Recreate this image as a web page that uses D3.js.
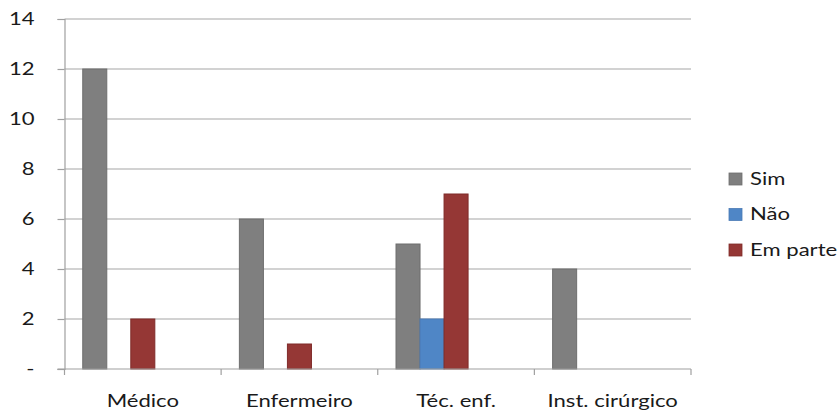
<!DOCTYPE html>
<html>
<head>
<meta charset="utf-8">
<script src="https://cdn.jsdelivr.net/npm/d3@7"></script>
<style>
  html, body { margin: 0; padding: 0; background: #fff; }
  svg { display: block; font-family: Lato, "Open Sans", sans-serif; }
</style>
</head>
<body>
<svg id="chart" width="839" height="412"></svg>
<script>
// Respondents per profession, by answer
const categories = ["Médico", "Enfermeiro", "Téc. enf.", "Inst. cirúrgico"];
const seriesNames = ["Sim", "Não", "Em parte"];
const sim = [12, 6, 5, 4];
const nao = [0, 0, 2, 0];
const emParte = [2, 1, 7, 0];
const yTicks = [0, 2, 4, 6, 8, 10, 12, 14];
const yTickLabels = ["-", "2", "4", "6", "8", "10", "12", "14"];
const colors = ["#7f7f7f", "#4f86c6", "#953735"];
const strokes = ["#6e6e6e", "#4a7ab5", "#7f2b29"];

const seriesValues = [sim, nao, emParte];

// labels are drawn with a wide letter shape
const stretch = 1.3;
function widen(sel) {
  sel.each(function () {
    const t = d3.select(this);
    const x = +t.attr("x") || 0;
    t.attr("x", x / stretch).attr("transform", `scale(${stretch},1)`);
  });
}

const svg = d3.select("#chart");
const plotLeft = 64.5, plotRight = 691, plotTop = 19, plotBottom = 369;

const x0 = d3.scaleBand().domain(categories).range([plotLeft, plotRight]).padding(0);
// five slots per category, the three series fill the first three
const slots = seriesNames.concat(["_a", "_b"]);
const x1 = d3.scaleBand().domain(slots)
  .range([0, x0.bandwidth()]).paddingOuter(0.76).paddingInner(0);
const y = d3.scaleLinear().domain([0, 14]).range([plotBottom, plotTop]);

// gridlines
svg.append("g")
  .selectAll("line")
  .data(yTicks.filter(t => t > 0))
  .join("line")
  .attr("x1", plotLeft).attr("x2", plotRight)
  .attr("y1", d => y(d)).attr("y2", d => y(d))
  .attr("stroke", "#a6a6a6").attr("stroke-width", 1.2);

// y axis
const yAxis = d3.axisLeft(y).tickValues(yTicks)
  .tickFormat((d, i) => yTickLabels[i]).tickSize(7).tickPadding(23);
const gy = svg.append("g").attr("transform", `translate(${plotLeft},0)`).call(yAxis);
gy.select(".domain").attr("stroke", "#a0a0a0").attr("stroke-width", 1.2);
gy.selectAll(".tick line").attr("stroke", "#a0a0a0").attr("stroke-width", 1.2);
gy.selectAll(".tick text").attr("font-size", 17).attr("fill", "#1a1a1a")
  .attr("font-family", "Lato, 'Open Sans', sans-serif").call(widen);

// bars
seriesNames.forEach((name, si) => {
  svg.append("g")
    .selectAll("rect")
    .data(categories.map((c, i) => ({ c, v: seriesValues[si][i] })).filter(d => d.v > 0))
    .join("rect")
    .attr("x", d => x0(d.c) + x1(name))
    .attr("width", x1.bandwidth())
    .attr("y", d => y(d.v))
    .attr("height", d => y(0) - y(d.v))
    .attr("fill", colors[si])
    .attr("stroke", strokes[si]).attr("stroke-width", 1);
});

// x axis
const xAxis = d3.axisBottom(x0).tickSize(0).tickPadding(26);
const gx = svg.append("g").attr("transform", `translate(0,${plotBottom})`).call(xAxis);
gx.select(".domain").remove();
gx.append("line").attr("x1", plotLeft - 7).attr("x2", plotRight)
  .attr("stroke", "#a0a0a0").attr("stroke-width", 1.2);
gx.selectAll(".cat-tick")
  .data(categories.map(c => x0(c)).concat([plotRight]))
  .join("line")
  .attr("class", "cat-tick")
  .attr("x1", d => d).attr("x2", d => d).attr("y1", 0).attr("y2", 6)
  .attr("stroke", "#a0a0a0").attr("stroke-width", 1.2);
gx.selectAll(".tick text").attr("font-size", 17).attr("fill", "#1a1a1a")
  .attr("font-family", "Lato, 'Open Sans', sans-serif").call(widen);

// legend
const legend = svg.append("g").attr("transform", "translate(729,0)");
const ly = d3.scalePoint().domain(seriesNames).range([179, 250]);
seriesNames.forEach((name, si) => {
  legend.append("rect")
    .attr("x", 0).attr("y", ly(name) - 6).attr("width", 13).attr("height", 12)
    .attr("fill", colors[si]).attr("stroke", strokes[si]).attr("stroke-width", 0.8);
  legend.append("g").attr("transform", `translate(21,${ly(name)})`)
    .append("text")
    .attr("x", 0).attr("y", 0).attr("dy", "0.35em")
    .attr("font-size", 17).attr("fill", "#1a1a1a").text(name)
    .call(widen);
});
</script>
</body>
</html>
